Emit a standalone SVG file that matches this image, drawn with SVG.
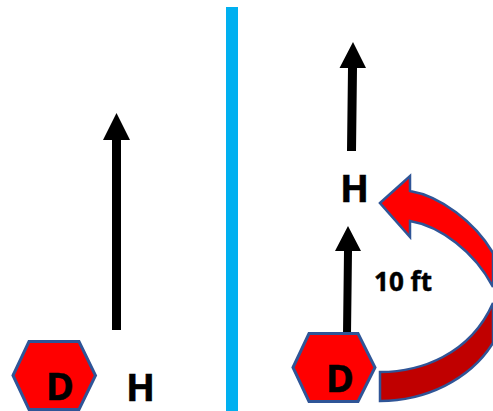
<svg xmlns="http://www.w3.org/2000/svg" width="493" height="411" viewBox="0 0 493 411">
<style>
.hex{fill:#f00;stroke:#2f5597;stroke-width:3;stroke-linejoin:miter}
.lbl{font-family:"Noto Sans","Open Sans",sans-serif;font-weight:700;fill:#000;stroke:#000;stroke-width:.5;text-anchor:middle}
.big{font-size:38px}
.small{font-size:26px}
.arrow{fill:#000}
.curve{stroke:#2f5597;stroke-width:2.500;stroke-linejoin:miter}
</style>
<rect width="493" height="411" fill="#fff"/>
<rect id="divider" x="226" y="7" width="12" height="404" fill="#00b0f0"/>
<g id="connectors">
<path class="arrow" d="M116.5,113 L130,140 L121,140 L121,330 L112,330 L112,140 L103,140 Z"/>
<path class="arrow" d="M353,42 L366,68 L357,68 L356,151 L347,151 L348,68 L339.5,68 Z"/>
<path class="arrow" d="M348,226 L361,251 L352,251 L351,334 L343,334 L344,251 L335,251 Z"/>
<path class="curve" fill="#c00000" d="M380,372 C420,372 470,355 493,303 L493,343 C470,380 425,401 380,401 Z"/>
<path class="curve" fill="#f00" d="M380,203 L410,176 L410,191 C440,196 475,222 493,253 L493,287 C475,252 440,226 410,221 L410,237 Z"/>
</g>
<g id="node-d-left">
<polygon class="hex" points="13,375.500 29,341.500 79,341.500 95.500,375.500 79,409.500 29,409.500"/>
<text class="lbl big" x="60" y="400">D</text>
</g>
<g id="node-h-left"><text class="lbl big" x="140.500" y="400.500">H</text></g>
<g id="node-d-right">
<polygon class="hex" points="293,367.500 309,333.500 358,333.500 375,367.500 358,401.500 309,401.500"/>
<text class="lbl big" x="340" y="392">D</text>
</g>
<g id="node-h-right"><text class="lbl big" x="354.500" y="201.500">H</text></g>
<g id="label-10ft"><text class="lbl small" x="403" y="290.500">10 ft</text></g>
</svg>
